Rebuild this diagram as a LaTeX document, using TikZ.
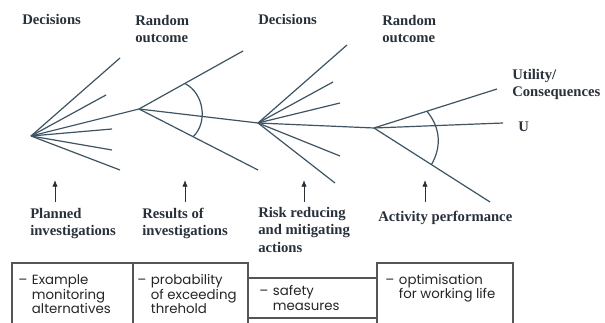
\documentclass[tikz,border=0pt]{standalone}
\usepackage{fontspec}
\setmainfont{Liberation Serif}
\newfontfamily\boxfont{Poppins}
\usepackage{xcolor}
\usetikzlibrary{calc,arrows.meta}
\definecolor{treeclr}{RGB}{62,84,98}
\definecolor{labelclr}{RGB}{40,48,58}
\definecolor{boxclr}{RGB}{85,85,85}
\newcommand{\dashlist}[1]{\begin{tabular}[t]{@{}l@{\hspace{0.35em}}l@{}}–&\begin{tabular}[t]{@{}l@{}}#1\end{tabular}\end{tabular}}

\begin{document}
\begin{tikzpicture}[x=0.75pt,y=-0.75pt,
	tree/.style={treeclr,line width=0.9pt},
	pointer/.style={-{Latex[length=5pt,width=4pt]},labelclr,line width=0.6pt},
	lbl/.style={anchor=north west,inner sep=0pt,align=left,text=labelclr,font=\fontsize{11}{13}\selectfont\bfseries},
	boxline/.style={boxclr,line width=0.8pt},
	boxtxt/.style={anchor=base west,inner sep=0pt,text=black!85,font=\boxfont\fontsize{10}{10.6}\selectfont}]
			\clip (0,0) rectangle (605,323);
			\fill[white] (0,0) rectangle (605,323);
			% decision and chance points
			\coordinate (d1) at (31,136);
			\coordinate (c1) at (139,109);
			\coordinate (d2) at (258,123);
			\coordinate (c2) at (374,128);
			% first decision
			\foreach \ex/\ey in {120/58,106/95,112/129,112/150,120/170}
				\draw[tree] (d1) -- (\ex,\ey);
			\draw[tree] (d1) -- (c1);
			% first random outcome
			\coordinate (u1) at (243,51);
			\coordinate (l1) at (258,170);
			\draw[tree] (c1) -- (u1);
			\draw[tree] (c1) -- (l1);
			\draw[tree] (c1) -- (d2);
			\draw[tree] ($(c1)!0.44!(u1)$) to[bend left=55] ($(c1)!0.455!(l1)$);
			% second decision
			\foreach \ex/\ey in {347/45,333/82,340/103,340/156,335/183}
				\draw[tree] (d2) -- (\ex,\ey);
			\draw[tree] (d2) -- (c2);
			% second random outcome
			\coordinate (u2) at (497,89);
			\coordinate (m2) at (503,123);
			\coordinate (l2) at (490,202);
			\draw[tree] (c2) -- (u2);
			\draw[tree] (c2) -- (m2);
			\draw[tree] (c2) -- (l2);
			\draw[tree] ($(c2)!0.43!(u2)$) to[bend left=35] ($(c2)!0.495!(l2)$);
			% labels at the top
			\node[lbl] (dec1) at (22,14) {Decisions};
			\node[lbl] (rnd1) at (135,15) {Random\\outcome};
			\node[lbl] (dec2) at (258,14) {Decisions};
			\node[lbl] (rnd2) at (382,15) {Random\\outcome};
			\node[lbl] (util) at (512,69) {Utility/\\Consequences};
			\node[lbl] (uu) at (518,122) {U};
			% arrows and labels below
			\foreach \i/\ax in {1/55,2/185,3/304,4/425}{
				\coordinate (a\i b) at (\ax,202);
				\coordinate (a\i t) at (\ax,180);
				\draw[pointer] (a\i b) -- (a\i t);
			}
			\node[lbl] (lab1) at (30,208) {Planned\\investigations};
			\node[lbl] (lab2) at (142,208) {Results of\\investigations};
			\node[lbl] (lab3) at (258,207) {Risk reducing\\and mitigating\\actions};
			\node[lbl] (lab4) at (378,211) {Activity performance};
			% boxes
			\draw[boxline] (12,263) rectangle (133,335);
			\draw[boxline] (133,263) rectangle (248,335);
			\draw[boxline] (248,278) rectangle (377,318);
			\draw[boxline] (377,263) rectangle (513,335);
			\node[boxtxt] (box1) at (18,285) {\dashlist{Example\\monitoring\\alternatives}};
			\node[boxtxt] (box2) at (137,285) {\dashlist{probability\\of exceeding\\threhold}};
			\node[boxtxt] (box3) at (259,296) {\dashlist{safety\\measures}};
			\node[boxtxt] (box4) at (385,284) {\dashlist{optimisation\\for working life}};
		\end{tikzpicture}
\end{document}
